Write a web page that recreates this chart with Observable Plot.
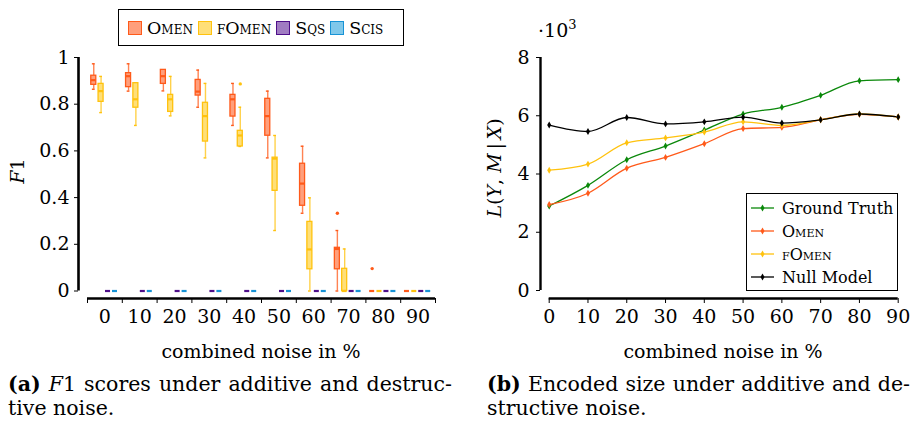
<!DOCTYPE html>
<html>
<head>
<meta charset="utf-8">
<script src="https://cdn.jsdelivr.net/npm/d3@7"></script>
<script src="https://cdn.jsdelivr.net/npm/@observablehq/plot@0.6"></script>
<style>
  body { margin: 0; background: #fff; }
  #fig { position: relative; width: 915px; height: 422px; overflow: hidden; background: #fff;
         font-family: "DejaVu Serif", "Liberation Serif", serif; color: #000; }
  .abs { position: absolute; white-space: nowrap; }
  .sc { font-variant: small-caps; }
  .lbl { font-size: 19px; }
  .cap { position: absolute; font-size: 20.5px; line-height: 24px; }
  .cap .l1 { text-align: justify; text-align-last: justify; white-space: nowrap; }
  .legend1 { position: absolute; border: 1px solid #000; display: flex; align-items: center;
             font-size: 17.5px; box-sizing: border-box; padding-left: 9px; }
  .legend1 .sw { width: 12px; height: 12px; border: 1.3px solid; margin-right: 5px; }
  .legend1 .tx { margin-right: 5px; }
  .legend2 { position: absolute; border: 1px solid #000; background: #fff; box-sizing: border-box;
             font-size: 16px; }
  .legend2 .row { position: absolute; left: 3px; height: 22px; display: flex; align-items: center; }
</style>
</head>
<body>
<div id="fig"></div>
<script>
// noise levels on the x axis (percent)
const noise = [0, 10, 20, 30, 40, 50, 60, 70, 80, 90];
const methods = ["Omen", "fOmen", "Sqs", "Scis"];

// F1 box statistics per noise level: [lower whisker, Q1, median, Q3, upper whisker]
const omenF1 = [
  [0.864, 0.883, 0.903, 0.922, 0.973],
  [0.856, 0.873, 0.920, 0.933, 0.973],
  [0.857, 0.887, 0.920, 0.947, 0.947],
  [0.787, 0.837, 0.854, 0.904, 0.946],
  [0.709, 0.747, 0.821, 0.840, 0.889],
  [0.570, 0.665, 0.749, 0.823, 0.856],
  [0.333, 0.365, 0.460, 0.545, 0.620],
  [0.000, 0.093, 0.180, 0.185, 0.259],
  [0, 0, 0, 0, 0],
  [0, 0, 0, 0, 0]
];
const fomenF1 = [
  [0.764, 0.810, 0.856, 0.887, 0.919],
  [0.709, 0.785, 0.821, 0.890, 0.890],
  [0.750, 0.767, 0.821, 0.840, 0.919],
  [0.570, 0.640, 0.749, 0.806, 0.889],
  [0.619, 0.619, 0.666, 0.686, 0.787],
  [0.259, 0.429, 0.567, 0.571, 0.666],
  [0.000, 0.093, 0.178, 0.296, 0.399],
  [0.000, 0.000, 0.000, 0.095, 0.180],
  [0, 0, 0, 0, 0],
  [0, 0, 0, 0, 0]
];
const sqsF1 = [
  [0, 0, 0, 0, 0], [0, 0, 0, 0, 0], [0, 0, 0, 0, 0], [0, 0, 0, 0, 0], [0, 0, 0, 0, 0],
  [0, 0, 0, 0, 0], [0, 0, 0, 0, 0], [0, 0, 0, 0, 0], [0, 0, 0, 0, 0], [0, 0, 0, 0, 0]
];
const scisF1 = [
  [0, 0, 0, 0, 0], [0, 0, 0, 0, 0], [0, 0, 0, 0, 0], [0, 0, 0, 0, 0], [0, 0, 0, 0, 0],
  [0, 0, 0, 0, 0], [0, 0, 0, 0, 0], [0, 0, 0, 0, 0], [0, 0, 0, 0, 0], [0, 0, 0, 0, 0]
];
// outliers: [noise, F1]
const omenOutliers = [[70, 0.333], [80, 0.096]];
const fomenOutliers = [[40, 0.887]];

// encoded size L(Y, M|X) per noise level
const groundTruth = [2900, 3610, 4490, 4960, 5510, 6060, 6290, 6700, 7200, 7240];
const omenSize    = [2950, 3340, 4200, 4570, 5040, 5560, 5600, 5860, 6050, 5960];
const fomenSize   = [4130, 4340, 5070, 5240, 5440, 5790, 5670, 5860, 6060, 5960];
const nullModel   = [5680, 5460, 5940, 5720, 5790, 5950, 5750, 5860, 6060, 5960];

// axis ticks
const f1Ticks = [0, 0.2, 0.4, 0.6, 0.8, 1];
const sizeTicks = [0, 2000, 4000, 6000, 8000];

// ---------- styling ----------
const FONT = "'DejaVu Serif', 'Liberation Serif', serif";
const boxStroke = {Omen: "#ff5a1a", fOmen: "#ffc20e", Sqs: "#4e0f8a", Scis: "#1793d6"};
const boxFill   = {Omen: "#ff9f7c", fOmen: "#ffdf78", Sqs: "#a07cc2", Scis: "#80c8ea"};
const slot = {Omen: -3.2, fOmen: -1.1, Sqs: 0.9, Scis: 2.9};   // position inside a noise band
const half = 0.72, capHalf = 0.4;

const f1Table = {Omen: omenF1, fOmen: fomenF1, Sqs: sqsF1, Scis: scisF1};
const boxes = methods.flatMap(m => noise.map((n, i) => {
  const [lo, q1, med, q3, hi] = f1Table[m][i];
  return {method: m, noise: n, lo, q1, med, q3, hi};
}));
const outliers = [
  ...omenOutliers.map(([n, v]) => ({method: "Omen", noise: n, value: v})),
  ...fomenOutliers.map(([n, v]) => ({method: "fOmen", noise: n, value: v}))
];
const px = d => d.noise + slot[d.method];
const bandEdges = noise.map(n => n - 5).concat([noise[noise.length - 1] + 5]);

const fig = document.getElementById("fig");

// ---------- (a) F1 box plots ----------
const f1Plot = Plot.plot({
  width: 460, height: 335,
  marginLeft: 78, marginRight: 25, marginTop: 57, marginBottom: 37,
  insetLeft: 9, insetBottom: 7.5,
  x: {domain: [-5, 95]},
  y: {domain: [0, 1]},
  color: {type: "identity"},
  style: {fontFamily: FONT, fontSize: "19px", background: "transparent"},
  marks: [
    Plot.ruleX([-5], {y1: 0, y2: 1, dx: -9, strokeWidth: 2.6, stroke: "#000"}),
    Plot.ruleY([0], {x1: -5, x2: 95, dy: 7.5, strokeWidth: 2.6, stroke: "#000"}),
    Plot.axisY({ticks: f1Ticks, tickSize: 4, tickPadding: 5, tickFormat: d => String(d), label: null}),
    Plot.axisX({ticks: bandEdges, tickSize: 5, tickFormat: () => "", label: null}),
    Plot.axisX({ticks: noise, tickSize: 0, tickPadding: 11, tickFormat: d => String(d), label: null}),
    // whiskers
    Plot.ruleX(boxes, {x: px, y1: "lo", y2: "q1", stroke: d => boxStroke[d.method], strokeOpacity: 0.75, strokeWidth: 1.4}),
    Plot.ruleX(boxes, {x: px, y1: "q3", y2: "hi", stroke: d => boxStroke[d.method], strokeOpacity: 0.75, strokeWidth: 1.4}),
    Plot.ruleY(boxes, {y: "lo", x1: d => px(d) - capHalf, x2: d => px(d) + capHalf, stroke: d => boxStroke[d.method], strokeWidth: 1.4}),
    Plot.ruleY(boxes, {y: "hi", x1: d => px(d) - capHalf, x2: d => px(d) + capHalf, stroke: d => boxStroke[d.method], strokeWidth: 1.4}),
    // boxes
    Plot.rect(boxes, {x1: d => px(d) - half, x2: d => px(d) + half, y1: "q1", y2: "q3",
      fill: d => boxFill[d.method], stroke: d => boxStroke[d.method], strokeWidth: 1.3}),
    // medians
    Plot.ruleY(boxes, {y: "med", x1: d => px(d) - half, x2: d => px(d) + half, stroke: d => boxStroke[d.method], strokeWidth: 2.2}),
    // outliers
    Plot.dot(outliers, {x: px, y: "value", r: 1.7, fill: d => boxStroke[d.method], stroke: null})
  ]
});
const wrapA = document.createElement("div");
wrapA.className = "abs"; wrapA.style.left = "0px"; wrapA.style.top = "0px";
wrapA.appendChild(f1Plot);
fig.appendChild(wrapA);

// ---------- (b) encoded size ----------
const sizeSeries = [
  {name: "Ground Truth", color: "#0a880a", values: groundTruth, sc: false},
  {name: "Omen",         color: "#ff5a1a", values: omenSize,    sc: true},
  {name: "fOmen",        color: "#ffc20e", values: fomenSize,   sc: true},
  {name: "Null Model",   color: "#000000", values: nullModel,   sc: false}
];
const sizeRows = sizeSeries.flatMap(s => s.values.map((v, i) => ({name: s.name, color: s.color, noise: noise[i], size: v})));

const sizePlot = Plot.plot({
  width: 455, height: 335,
  marginLeft: 80, marginRight: 17.3, marginTop: 57, marginBottom: 37,
  insetLeft: 8.7, insetBottom: 8,
  x: {domain: [0, 90]},
  y: {domain: [0, 8000]},
  color: {type: "identity"},
  style: {fontFamily: FONT, fontSize: "19px", background: "transparent"},
  marks: [
    Plot.ruleX([0], {y1: 0, y2: 8000, dx: -8.7, strokeWidth: 2.4, stroke: "#000"}),
    Plot.ruleY([0], {x1: 0, x2: 90, dy: 8, strokeWidth: 2.4, stroke: "#000"}),
    Plot.axisY({ticks: sizeTicks, tickSize: 4, tickPadding: 7, tickFormat: d => String(d / 1000), label: null}),
    Plot.axisX({ticks: noise, tickSize: 5, tickPadding: 6, tickFormat: d => String(d), label: null}),
    Plot.line(sizeRows, {x: "noise", y: "size", z: "name", stroke: "color", strokeWidth: 1.3, curve: "monotone-x"}),
    Plot.dot(sizeRows, {x: "noise", y: "size", fill: "color", symbol: "diamond", r: 2.1, stroke: null})
  ]
});
const wrapB = document.createElement("div");
wrapB.className = "abs"; wrapB.style.left = "460px"; wrapB.style.top = "0px";
wrapB.appendChild(sizePlot);
fig.appendChild(wrapB);

// ---------- text helpers ----------
function centered(html, cx, cy, cls, rotate) {
  const el = document.createElement("div");
  el.className = "abs " + (cls || "");
  el.innerHTML = html;
  el.style.left = cx + "px"; el.style.top = cy + "px";
  el.style.transform = "translate(-50%,-50%)" + (rotate ? ` rotate(${rotate}deg)` : "");
  fig.appendChild(el);
  return el;
}

// axis titles
centered("<i>F</i>1", 17, 171, "lbl", -90);
centered("combined noise in %", 261, 351, "lbl");
centered("<i>L</i>(<i>Y</i>, <i>M</i>&#8201;|&#8201;<i>X</i>)", 494, 168, "lbl", -90);
centered("combined noise in %", 723, 351, "lbl");
const mult = document.createElement("div");
mult.className = "abs lbl";
mult.style.left = "538px"; mult.style.top = "19px";
mult.innerHTML = "&middot;10<sup style='font-size:13px;vertical-align:8px;line-height:0'>3</sup>";
fig.appendChild(mult);

// legend for (a)
const leg1 = document.createElement("div");
leg1.className = "legend1";
Object.assign(leg1.style, {left: "118px", top: "9px", width: "286px", height: "37px"});
methods.forEach(m => {
  const sw = document.createElement("span");
  sw.className = "sw";
  sw.style.background = boxFill[m];
  sw.style.borderColor = boxStroke[m];
  const tx = document.createElement("span");
  tx.className = "tx sc";
  tx.textContent = m;
  leg1.appendChild(sw); leg1.appendChild(tx);
});
fig.appendChild(leg1);

// legend for (b)
const leg2 = document.createElement("div");
leg2.className = "legend2";
Object.assign(leg2.style, {left: "746px", top: "193px", width: "152px", height: "98px"});
sizeSeries.forEach((s, i) => {
  const row = document.createElement("div");
  row.className = "row";
  row.style.top = (3 + i * 23) + "px";
  row.innerHTML =
    `<svg width="25" height="12" style="margin-right:7px;overflow:visible">
       <line x1="1" y1="6" x2="24" y2="6" stroke="${s.color}" stroke-width="1.3"/>
       <path d="M12.5,2.6 L14.5,6 L12.5,9.4 L10.5,6 Z" fill="${s.color}"/>
     </svg><span class="${s.sc ? "sc" : ""}">${s.name}</span>`;
  leg2.appendChild(row);
});
fig.appendChild(leg2);

// captions
function caption(left, width, line1, line2) {
  const el = document.createElement("div");
  el.className = "cap";
  el.style.left = left + "px"; el.style.top = "372px"; el.style.width = width + "px";
  el.innerHTML = `<div class="l1">${line1}</div><div>${line2}</div>`;
  fig.appendChild(el);
}
caption(8, 444, "<b>(a)</b> <i>F</i>1 scores under additive and destruc-", "tive noise.");
caption(487, 423, "<b>(b)</b> Encoded size under additive and de-", "structive noise.");
</script>
</body>
</html>
